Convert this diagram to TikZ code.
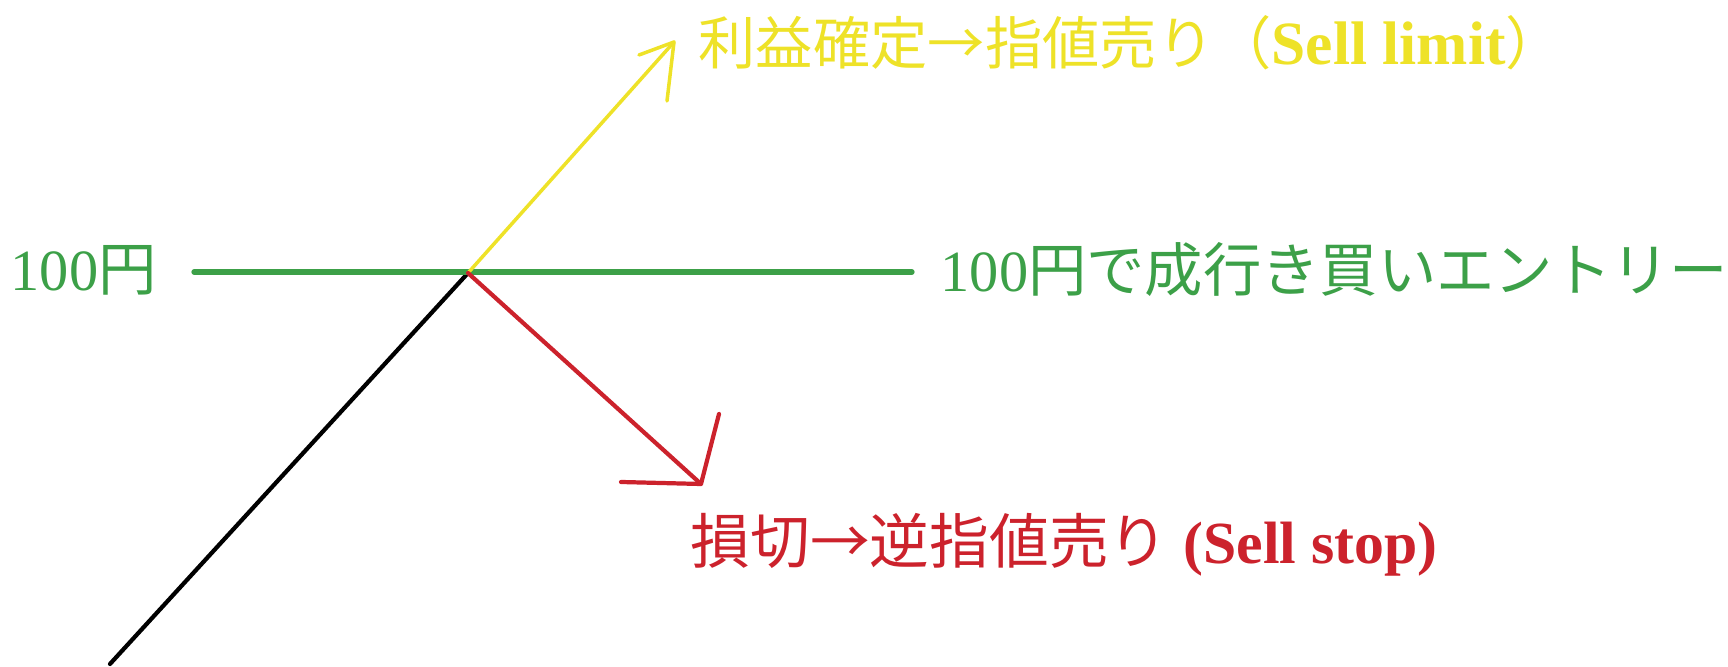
\documentclass[tikz,border=0pt]{standalone}
\usepackage{fontspec}
\setmainfont{Liberation Serif}
\newfontfamily\jp{Noto Sans CJK JP}
\definecolor{upcol}{RGB}{238,226,40}
\definecolor{levelcol}{RGB}{60,160,72}
\definecolor{downcol}{RGB}{204,34,44}
\begin{document}
\begin{tikzpicture}[line cap=round, line join=round]
    \useasboundingbox (0,0) rectangle (17.28,6.67);
    % price path
    \coordinate (start) at (1.10,0.03);
    \coordinate (apex) at (4.68,3.94);
    \draw [line width=1.2pt] (start)--(apex);
    % entry level
    \node [anchor=west, inner sep=0pt, text=levelcol, font=\fontsize{16.6}{16.6}\selectfont] (price) at (0.10,3.97) {100{\jp 円}};
    \node [anchor=west, inner sep=0pt, text=levelcol, font=\fontsize{16.6}{16.6}\selectfont] (entry) at (9.40,3.97) {100{\jp 円で成行き買いエントリー}};
    \coordinate (lvlL) at (1.94,3.95);
    \coordinate (lvlR) at (9.12,3.95);
    \draw [levelcol, line width=1.5pt] (lvlL)--(lvlR);
    % take profit
    \coordinate (uptip) at (6.74,6.25);
    \coordinate (upL) at (6.39,6.12);
    \coordinate (upD) at (6.67,5.66);
    \draw [upcol, line width=1pt] (apex)--(uptip);
    \draw [upcol, line width=1pt] (upL)--(uptip)--(upD);
    \node [anchor=west, inner sep=0pt, text=upcol, font=\fontsize{16.3}{16.3}\selectfont] (limit) at (6.98,6.24) {{\jp 利益確定→指値売り（}{\fontsize{17.5}{17.5}\selectfont\bfseries Sell limit}{\jp ）}};
    % stop loss
    \coordinate (dntip) at (7.01,1.83);
    \coordinate (dnL) at (6.21,1.85);
    \coordinate (dnU) at (7.19,2.53);
    \draw [downcol, line width=1.2pt] (apex)--(dntip);
    \draw [downcol, line width=1.2pt] (dnL)--(dntip)--(dnU);
    \node [anchor=west, inner sep=0pt, text=downcol, font=\fontsize{17}{17}\selectfont] (stop) at (6.90,1.22) {{\jp 損切→逆指値売り} {\bfseries (Sell stop)}};
\end{tikzpicture}
\end{document}
